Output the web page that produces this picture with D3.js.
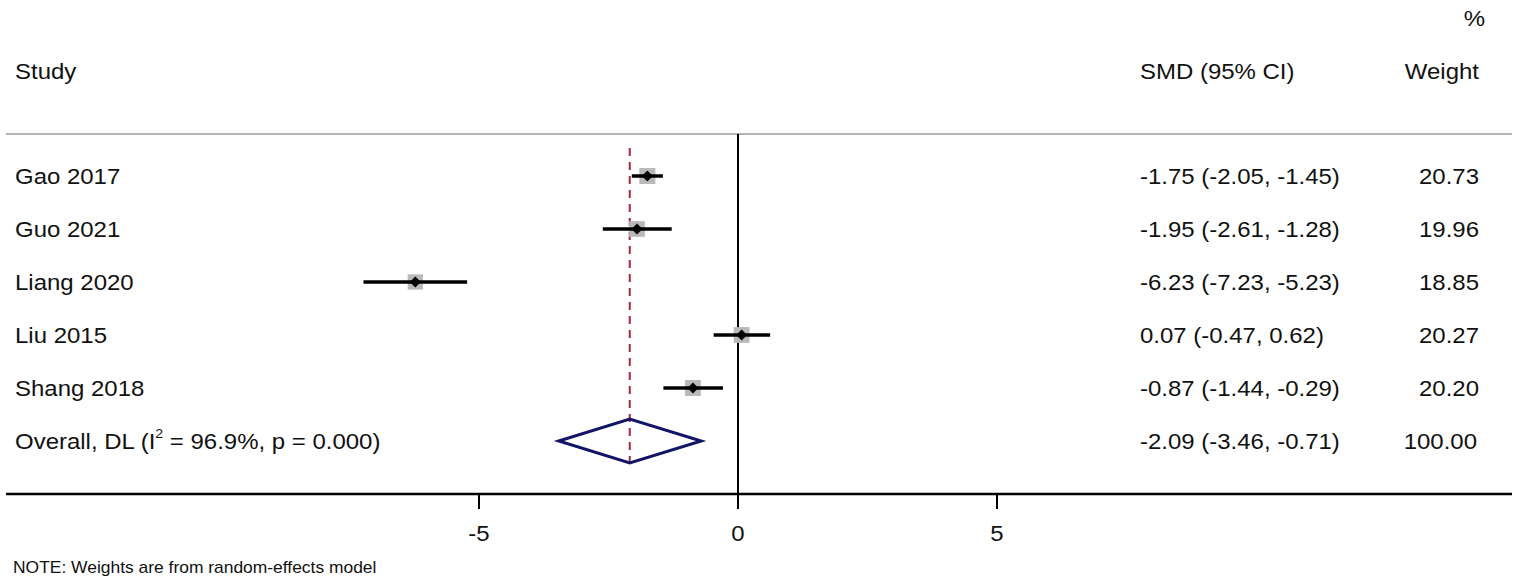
<!DOCTYPE html>
<html>
<head>
<meta charset="utf-8">
<script src="https://cdn.jsdelivr.net/npm/d3@7"></script>
<style>
  body { margin: 0; background: #fff; }
  text { font-family: "Liberation Sans", Arial, sans-serif; fill: #111; }
</style>
</head>
<body>
<script>
var studies = ["Gao 2017", "Guo 2021", "Liang 2020", "Liu 2015", "Shang 2018"];
var smd = [-1.75, -1.95, -6.23, 0.07, -0.87];
var lower = [-2.05, -2.61, -7.23, -0.47, -1.44];
var upper = [-1.45, -1.28, -5.23, 0.62, -0.29];
var weights = [20.73, 19.96, 18.85, 20.27, 20.20];
var overall = { label: "Overall, DL (I", est: -2.09, lo: -3.46, hi: -0.71, weight: 100.00 };
var xTicks = [-5, 0, 5];

var width = 1516, height = 583;
var sx = 1.09; // the source is stretched a little horizontally

var svg = d3.select("body").append("svg")
  .attr("width", width)
  .attr("height", height);

var x = d3.scaleLinear().domain([-5, 5]).range([479, 997]);
var rows = studies.concat(["overall"]);
var y = d3.scalePoint().domain(d3.range(rows.length)).range([176, 441]);
var box = d3.scaleSqrt().domain([0, 20.73]).range([0, 16]);

function txt(s, px, py, size, anchor) {
  return svg.append("text")
    .attr("transform", "translate(" + px + "," + py + ") scale(" + sx + ",1)")
    .attr("font-size", size)
    .attr("text-anchor", anchor || "start")
    .text(s);
}

function fmt(v) { return v.toFixed(2); }

// header
txt("%", 1485, 26, 22, "end");
txt("Study", 15, 79, 22);
txt("SMD (95% CI)", 1140, 79, 22);
txt("Weight", 1479, 79, 22, "end");

svg.append("line")
  .attr("x1", 6).attr("x2", 1512)
  .attr("y1", 134).attr("y2", 134)
  .attr("stroke", "#b4b4b4").attr("stroke-width", 2);

// axis
var axisY = 494;
svg.append("line")
  .attr("x1", 6).attr("x2", 1512)
  .attr("y1", axisY).attr("y2", axisY)
  .attr("stroke", "#000").attr("stroke-width", 2.5);

svg.selectAll(".tick")
  .data(xTicks)
  .enter().append("line")
    .attr("x1", function(d) { return x(d); })
    .attr("x2", function(d) { return x(d); })
    .attr("y1", axisY).attr("y2", 509)
    .attr("stroke", "#000").attr("stroke-width", 2);

xTicks.forEach(function(t) {
  txt(String(t), x(t), 541, 22, "middle");
});

// null line
svg.append("line")
  .attr("x1", x(0)).attr("x2", x(0))
  .attr("y1", 134).attr("y2", 509)
  .attr("stroke", "#000").attr("stroke-width", 2);

// overall effect line
svg.append("line")
  .attr("x1", x(overall.est)).attr("x2", x(overall.est))
  .attr("y1", 148).attr("y2", y(5) + 22)
  .attr("stroke", "#9b2d3a").attr("stroke-width", 2)
  .attr("stroke-dasharray", "8,6");

// study rows
studies.forEach(function(s, i) {
  var cy = y(i);
  var b = box(weights[i]);

  svg.append("rect")
    .attr("x", x(smd[i]) - b / 2).attr("y", cy - b / 2)
    .attr("width", b).attr("height", b)
    .attr("fill", "#b9b9b9");

  svg.append("line")
    .attr("x1", x(lower[i])).attr("x2", x(upper[i]))
    .attr("y1", cy).attr("y2", cy)
    .attr("stroke", "#000").attr("stroke-width", 3.5);

  var r = 5.5;
  svg.append("path")
    .attr("d", "M" + (x(smd[i]) - r) + "," + cy + "L" + x(smd[i]) + "," + (cy - r) +
               "L" + (x(smd[i]) + r) + "," + cy + "L" + x(smd[i]) + "," + (cy + r) + "Z")
    .attr("fill", "#000");

  txt(s, 15, cy + 8, 22);
  txt(fmt(smd[i]) + " (" + fmt(lower[i]) + ", " + fmt(upper[i]) + ")", 1140, cy + 8, 22);
  txt(fmt(weights[i]), 1479, cy + 8, 22, "end");
});

// overall diamond
var oy = y(5);
svg.append("path")
  .attr("d", "M" + x(overall.lo) + "," + oy + "L" + x(overall.est) + "," + (oy - 22) +
             "L" + x(overall.hi) + "," + oy + "L" + x(overall.est) + "," + (oy + 22) + "Z")
  .attr("fill", "none")
  .attr("stroke", "#141466").attr("stroke-width", 3);

var ot = txt("", 15, oy + 8, 22);
ot.append("tspan").text(overall.label);
ot.append("tspan").attr("font-size", 13).attr("dy", -11).text("2");
ot.append("tspan").attr("dy", 11).text(" = 96.9%, p = 0.000)");

txt(fmt(overall.est) + " (" + fmt(overall.lo) + ", " + fmt(overall.hi) + ")", 1140, oy + 8, 22);
txt(fmt(overall.weight), 1477, oy + 8, 22, "end");

txt("NOTE: Weights are from random-effects model", 13, 573, 16);
</script>
</body>
</html>
